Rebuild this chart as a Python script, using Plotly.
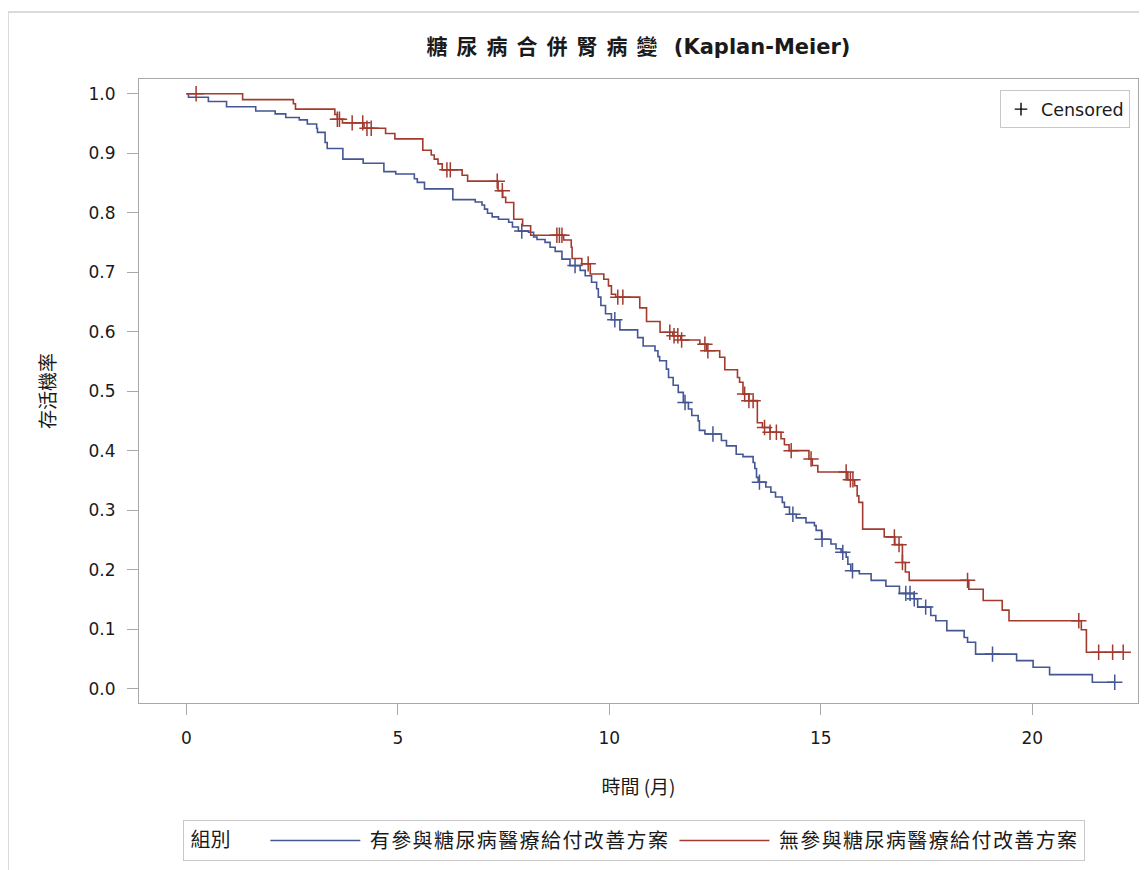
import plotly.graph_objects as go
import numpy as np

# ---------------- data ----------------
group_names = ["有參與糖尿病醫療給付改善方案", "無參與糖尿病醫療給付改善方案"]

blue_t = [0, 0.05, 0.52, 0.95, 1.64, 2.10, 2.35, 2.67, 2.86, 3.08, 3.10, 3.28, 3.33, 3.70, 4.18,
          4.67, 4.95, 5.39, 5.46, 5.63, 6.30, 6.83, 6.99, 7.05, 7.12, 7.23, 7.38, 7.62, 7.71, 7.85,
          8.09, 8.21, 8.29, 8.48, 8.60, 8.72, 8.88, 9.07, 9.31, 9.43, 9.58, 9.70, 9.74, 9.80, 9.91,
          10.05, 10.25, 10.67, 10.80, 11.08, 11.15, 11.19, 11.35, 11.40, 11.51, 11.63, 11.75, 11.87,
          11.95, 12.10, 12.13, 12.26, 12.65, 12.77, 13.00, 13.16, 13.40, 13.44, 13.48, 13.52, 13.70,
          13.82, 13.93, 14.09, 14.14, 14.26, 14.42, 14.65, 14.85, 14.89, 15.02, 15.24, 15.36, 15.48,
          15.60, 15.64, 15.71, 15.91, 16.19, 16.54, 16.86, 17.21, 17.29, 17.60, 17.72, 17.98, 18.39,
          18.47, 18.66, 19.63, 20.02, 20.41, 21.42]
blue_s = [1.0, 0.994, 0.987, 0.978, 0.971, 0.966, 0.960, 0.956, 0.949, 0.942, 0.935, 0.918, 0.908,
          0.890, 0.883, 0.869, 0.865, 0.857, 0.851, 0.840, 0.822, 0.818, 0.813, 0.806, 0.799, 0.793,
          0.789, 0.784, 0.776, 0.769, 0.767, 0.759, 0.755, 0.750, 0.742, 0.735, 0.722, 0.711, 0.703,
          0.694, 0.683, 0.672, 0.658, 0.644, 0.630, 0.620, 0.603, 0.590, 0.576, 0.568, 0.558, 0.551,
          0.537, 0.523, 0.510, 0.498, 0.481, 0.470, 0.459, 0.450, 0.434, 0.428, 0.417, 0.408, 0.394,
          0.390, 0.380, 0.370, 0.355, 0.347, 0.339, 0.330, 0.322, 0.313, 0.305, 0.293, 0.287, 0.279,
          0.274, 0.266, 0.251, 0.243, 0.235, 0.229, 0.221, 0.209, 0.198, 0.193, 0.182, 0.172, 0.160,
          0.151, 0.137, 0.123, 0.114, 0.0975, 0.086, 0.078, 0.058, 0.047, 0.036, 0.0235, 0.0106]
blue_end = 21.95
blue_censor = [7.93, 9.19, 10.13, 11.79, 12.45, 13.55, 14.34, 15.03, 15.52, 15.75, 17.01, 17.11,
               17.21, 17.48, 19.06, 21.95]

red_t = [0, 1.33, 2.53, 2.58, 3.51, 3.57, 3.69, 4.20, 4.71, 4.93, 5.59, 5.79, 5.86, 5.95, 6.05,
         6.52, 6.65, 7.37, 7.48, 7.55, 7.74, 7.95, 8.14, 8.92, 9.10, 9.12, 9.35, 9.55, 9.87, 9.98,
         10.05, 10.15, 10.72, 10.88, 11.20, 11.50, 11.69, 12.14, 12.30, 12.61, 12.73, 13.03, 13.08,
         13.16, 13.30, 13.50, 13.62, 13.80, 14.06, 14.14, 14.25, 14.72, 14.80, 14.93, 15.64, 15.80,
         15.86, 15.90, 15.99, 16.50, 16.75, 16.93, 17.00, 17.09, 18.50, 18.84, 19.29, 19.45, 21.16,
         21.28]
red_s = [1.0, 0.990, 0.983, 0.974, 0.965, 0.957, 0.951, 0.942, 0.933, 0.924, 0.905, 0.897, 0.890,
         0.882, 0.872, 0.863, 0.853, 0.837, 0.826, 0.817, 0.789, 0.778, 0.762, 0.754, 0.742, 0.723,
         0.714, 0.697, 0.688, 0.677, 0.663, 0.658, 0.640, 0.617, 0.599, 0.593, 0.586, 0.579, 0.568,
         0.557, 0.536, 0.523, 0.515, 0.495, 0.484, 0.447, 0.439, 0.431, 0.420, 0.410, 0.400, 0.386,
         0.375, 0.364, 0.351, 0.341, 0.324, 0.313, 0.268, 0.255, 0.242, 0.212, 0.196, 0.182, 0.167,
         0.148, 0.132, 0.114, 0.099, 0.061]
red_end = 22.15
red_censor = [0.23, 3.57, 3.62, 3.92, 4.17, 4.27, 4.37, 6.16, 6.24, 7.35, 7.47, 8.76, 8.82, 8.88,
              9.50, 10.20, 10.32, 11.43, 11.53, 11.62, 11.71, 12.26, 12.33, 13.20, 13.30, 13.40,
              13.67, 13.80, 13.95, 14.30, 14.77, 15.60, 15.70, 15.76, 16.74, 16.85, 16.93, 18.47,
              21.10, 21.57, 21.90, 22.15]

x_ticks = [0, 5, 10, 15, 20]
y_ticks = [round(0.1 * i, 1) for i in range(11)]

# ---------------- styling ----------------
BLUE = "#445694"
RED = "#A23A2E"
FRAME = "#A9A9A9"
TXT = "#1a1a1a"
LAT = "DejaVu Sans, Noto Sans CJK TC, sans-serif"
CJK = "Noto Sans CJK TC, DejaVu Sans, sans-serif"
NB = "\u00a0"

# page body has an 8px default margin; figure is sized so the page is 1147x870
FIG_W, FIG_H = 1139, 862


def km_lookup(times, surv, t):
    idx = np.searchsorted(np.array(times), t, side="right") - 1
    return surv[max(idx, 0)]


def spaced(txt, px):
    return f"<span style='letter-spacing:{px}px'>{txt}</span>"


fig = go.Figure()
for name, t, s, end, cens, col in [
    (group_names[0], blue_t, blue_s, blue_end, blue_censor, BLUE),
    (group_names[1], red_t, red_s, red_end, red_censor, RED),
]:
    fig.add_trace(go.Scatter(
        x=list(t) + [end], y=list(s) + [s[-1]], mode="lines", line_shape="hv",
        line=dict(color=col, width=1.6), name=NB + spaced(name, 1.4), legend="legend",
    ))
    fig.add_trace(go.Scatter(
        x=cens, y=[km_lookup(t, s, c) for c in cens], mode="markers",
        marker=dict(symbol="cross-thin", size=11, line=dict(color=col, width=1.5)),
        showlegend=False, hoverinfo="skip",
    ))

# Censored legend entry
fig.add_trace(go.Scatter(
    x=[None], y=[None], mode="markers", name="Censored", legend="legend2",
    marker=dict(symbol="cross-thin", size=9, line=dict(color="#000000", width=1.4)),
))

axis_common = dict(
    showline=True, linecolor=FRAME, linewidth=1.2, mirror=True,
    ticks="outside", ticklen=11, tickcolor=FRAME, tickwidth=1.2,
    showgrid=False, zeroline=False,
    tickfont=dict(family=LAT, size=17, color=TXT),
)

fig.update_layout(
    width=FIG_W, height=FIG_H,
    margin=dict(l=131, r=9, t=71, b=167, autoexpand=False),
    paper_bgcolor="white", plot_bgcolor="white",
    title=dict(
        text=spaced("糖尿病合併腎病變", 9) + " (Kaplan-Meier)",
        x=0.5, xref="paper", y=1 - 39 / FIG_H, yref="container", yanchor="middle", xanchor="center",
        font=dict(family=LAT, size=21, color=TXT, weight="bold"),
    ),
    xaxis=dict(
        **axis_common, range=[-1.12, 22.5], tickvals=x_ticks, ticktext=[str(v) for v in x_ticks],
        ticklabelstandoff=8,
        title=dict(text="時間 (月)", font=dict(family=CJK, size=19, color=TXT), standoff=34),
    ),
    yaxis=dict(
        **axis_common, range=[-0.0242, 1.0247], tickvals=y_ticks,
        ticktext=[f"{v:.1f}" for v in y_ticks], ticklabelstandoff=8,
        title=dict(text="存活機率", font=dict(family=CJK, size=19, color=TXT), standoff=27),
    ),
    legend=dict(
        orientation="h", x=0.044, y=-0.1875, xanchor="left", yanchor="top",
        xref="paper", yref="paper",
        bordercolor="#C8C8C8", borderwidth=1, bgcolor="white",
        title=dict(text=NB + "組別" + NB * 6, font=dict(family=CJK, size=20, color=TXT), side="left"),
        font=dict(family=CJK, size=20, color=TXT),
        itemwidth=90, tracegroupgap=0,
    ),
    legend2=dict(
        x=0.992, y=0.982, xanchor="right", yanchor="top", xref="paper", yref="paper",
        bordercolor="#C8C8C8", borderwidth=1, bgcolor="white",
        font=dict(family=LAT, size=17.5, color=TXT), itemwidth=30,
    ),
    shapes=[dict(type="rect", xref="paper", yref="paper",
                 x0=(8 - 139) / 999, x1=(1160 - 139) / 999,
                 y0=(703 - 890) / 624, y1=(703 - 12) / 624,
                 line=dict(color="#D0D0D0", width=1.5), layer="below")],
    showlegend=True,
)

fig.write_html("out.html")
